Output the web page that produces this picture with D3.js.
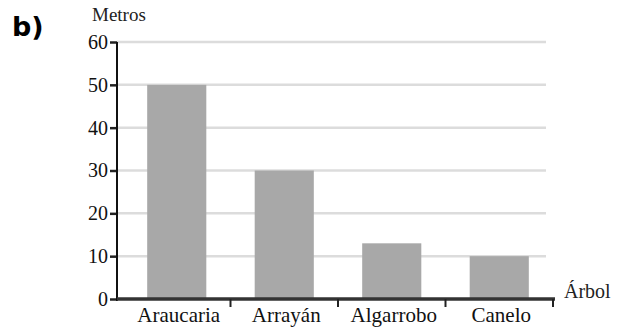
<!DOCTYPE html>
<html><head><meta charset="utf-8">
<script src="https://cdn.jsdelivr.net/npm/d3@7"></script>
<style>body{margin:0;background:#fff}</style>
</head><body>
<svg id="c" width="619" height="333"></svg>
<script>
const categories = ["Araucaria","Arrayán","Algarrobo","Canelo"];
const values = [50, 30, 13, 10];
const yTicks = [0,10,20,30,40,50,60];

const svg = d3.select("#c");
const x0 = 123, x1 = 553, yTop = 42, yBot = 299;
const x = d3.scaleBand().domain(categories).range([x0, x1]).paddingInner(0.45).paddingOuter(0.225);
const y = d3.scaleLinear().domain([0,60]).range([yBot, yTop]);
const serif = "Liberation Serif, Times New Roman, serif";

// gridlines
svg.append("g").selectAll("line").data(yTicks.filter(d=>d>0)).join("line")
  .attr("x1",117).attr("x2",546).attr("y1",d=>y(d)).attr("y2",d=>y(d))
  .attr("stroke","#dcdcdc").attr("stroke-width",2.5);

// bars
svg.append("g").selectAll("rect").data(values).join("rect")
  .attr("x",(d,i)=>x(categories[i])).attr("width",x.bandwidth())
  .attr("y",d=>y(d)).attr("height",d=>yBot-y(d)).attr("fill","#a8a8a8");

// y axis
const ya = svg.append("g").attr("transform","translate(117,0)")
  .call(d3.axisLeft(y).tickValues(yTicks).tickSize(7).tickPadding(2));
ya.select(".domain").remove();
ya.selectAll(".tick line").attr("stroke","#222").attr("stroke-width",2.5);
ya.selectAll(".tick text").attr("font-family",serif).attr("font-size",20).attr("fill","#111");
svg.append("line").attr("x1",117).attr("x2",117).attr("y1",yTop).attr("y2",yBot+2).attr("stroke","#111").attr("stroke-width",2);

// x axis
svg.append("line").attr("x1",117).attr("x2",555).attr("y1",yBot).attr("y2",yBot).attr("stroke","#333").attr("stroke-width",3.5);
const seps = categories.map(c=>x(c)+x.bandwidth()+x.step()*x.paddingInner()/2);
svg.append("g").selectAll("line").data(seps).join("line")
  .attr("x1",d=>d).attr("x2",d=>d).attr("y1",yBot).attr("y2",yBot+8).attr("stroke","#222").attr("stroke-width",2);
svg.append("g").selectAll("text").data(categories).join("text")
  .attr("x",d=>x(d)+x.bandwidth()/2+2).attr("y",322).attr("text-anchor","middle")
  .attr("font-family",serif).attr("font-size",21).attr("fill","#111").text(d=>d);

svg.append("text").attr("x",92).attr("y",21).attr("font-family",serif).attr("font-size",19).attr("fill","#222").text("Metros");
svg.append("text").attr("x",564).attr("y",298).attr("font-family",serif).attr("font-size",20).attr("fill","#222").text("Árbol");
svg.append("text").attr("x",12).attr("y",36).attr("font-family","DejaVu Sans, sans-serif").attr("font-weight","bold").attr("font-size",27).attr("fill","#000").text("b)");
</script>
</body></html>
